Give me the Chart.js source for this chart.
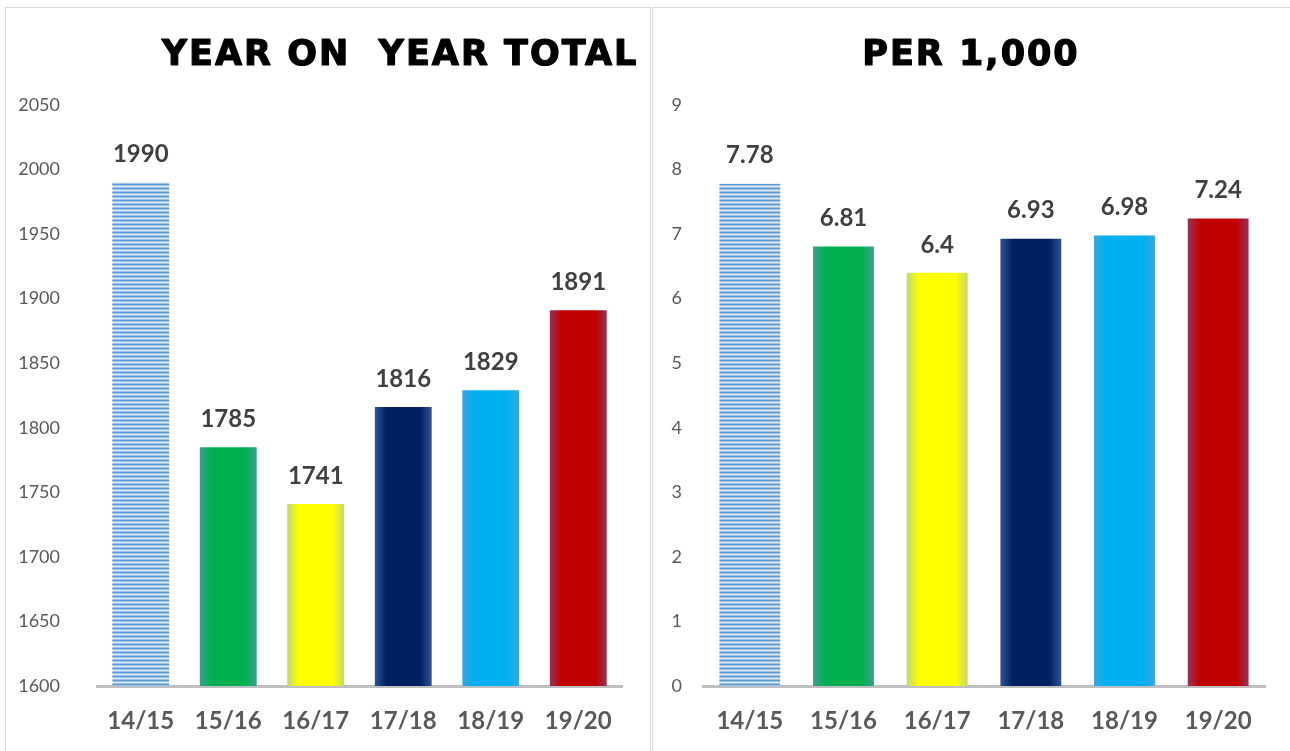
<!DOCTYPE html>
<html><head><meta charset="utf-8">
<script src="https://cdn.jsdelivr.net/npm/chart.js@4.4.1/dist/chart.umd.min.js"></script>
<style>
html,body{margin:0;padding:0;background:#fff;width:1290px;height:751px;overflow:hidden;}
.panel{position:absolute;border:1px solid #d9d9d9;box-sizing:border-box;}
#p1{left:5px;top:7px;width:646px;height:780px;}
#p2{left:652px;top:7px;width:660px;height:780px;}
canvas{position:absolute;top:0;}
#c1{left:0;}
#c2{left:651px;}
</style></head><body>
<div class="panel" id="p1"></div>
<div class="panel" id="p2"></div>
<canvas id="c1" width="650" height="751"></canvas>
<canvas id="c2" width="639" height="751"></canvas>
<script>
const categories = ['14/15','15/16','16/17','17/18','18/19','19/20'];
const totalValues = [1990,1785,1741,1816,1829,1891];
const perThousandValues = [7.78,6.81,6.4,6.93,6.98,7.24];
const totalTitle = 'YEAR ON  YEAR TOTAL';
const perThousandTitle = 'PER 1,000';
const barColors = ['stripes','#00B050','#FFFF00','#002060','#00B0F0','#C00000'];
const barEdgeColors = [null,'#3C9E92','#C2D86E','#2F5594','#3AA6DE','#963358'];

function stripePattern(ctx){
  const pc = document.createElement('canvas');
  pc.width = 8; pc.height = 4;
  const p = pc.getContext('2d');
  const rows = ['#5B9BD5','#9DC3E6','#DDEBF7','#9DC3E6'];
  rows.forEach((c,i)=>{p.fillStyle=c;p.fillRect(0,i,8,1);});
  return ctx.createPattern(pc,'repeat');
}

const valueLabels = {
  id:'valueLabels',
  afterDatasetsDraw(chart){
    const ctx = chart.ctx;
    const meta = chart.getDatasetMeta(0);
    const data = chart.data.datasets[0].data;
    ctx.save();
    ctx.font = 'bold 24px Lato';
    ctx.fillStyle = '#404040';
    ctx.textAlign = 'center';
    ctx.textBaseline = 'middle';
    meta.data.forEach((bar,i)=>{
      ctx.fillText(String(data[i]), bar.x, bar.y - 28);
    });
    ctx.restore();
  }
};

const panelTitle = {
  id:'panelTitle',
  afterDraw(chart, args, opts){
    const ctx = chart.ctx;
    ctx.save();
    ctx.font = 'bold 35px "DejaVu Sans"';
    ctx.letterSpacing = '2px';
    ctx.fillStyle = '#000';
    ctx.strokeStyle = '#000';
    ctx.lineWidth = 1.2;
    ctx.lineJoin = 'round';
    ctx.textAlign = 'center';
    ctx.textBaseline = 'alphabetic';
    ctx.fillText(opts.text, opts.x, 65);
    ctx.strokeText(opts.text, opts.x, 65);
    ctx.restore();
  }
};

function makeChart(id, values, min, max, step, yWidth, yPad, padRight, title, titleX){
  const canvas = document.getElementById(id);
  const ctx = canvas.getContext('2d');
  const pattern = stripePattern(ctx);
  const fill = (c) => {
    const i = c.dataIndex;
    if (barColors[i] === 'stripes') return pattern;
    const chart = c.chart;
    const xs = chart.scales.x;
    if (!xs || !chart.chartArea) return barColors[i];
    const cx = xs.getPixelForValue(i);
    const half = (xs.width / categories.length) * 0.65 / 2;
    const g = chart.ctx.createLinearGradient(cx - half, 0, cx + half, 0);
    g.addColorStop(0, barEdgeColors[i]);
    g.addColorStop(0.2, barColors[i]);
    g.addColorStop(0.8, barColors[i]);
    g.addColorStop(1, barEdgeColors[i]);
    return g;
  };
  return new Chart(ctx, {
    type:'bar',
    data:{labels:categories, datasets:[{data:values, backgroundColor:fill, borderWidth:0, barPercentage:0.65, categoryPercentage:1}]},
    options:{
      responsive:false, animation:false,
      layout:{padding:{top:105,right:padRight,left:0,bottom:0}},
      plugins:{legend:{display:false}, tooltip:{enabled:false}, title:{display:false},
        panelTitle:{text:title, x:titleX}},
      scales:{
        x:{grid:{display:false,drawTicks:false},
           border:{display:true,color:'#BFBFBF',width:3},
           ticks:{font:{family:'Lato',size:24,weight:'bold'},color:'#595959',padding:21},
           afterFit(s){s.height=65;}},
        y:{min:min,max:max,grid:{display:false,drawTicks:false},border:{display:false},
           ticks:{stepSize:step,font:{family:'Lato',size:18},color:'#595959',padding:yPad,
                  callback:(v)=>String(v)},
           afterFit(s){s.width=yWidth;}}
      }
    },
    plugins:[valueLabels, panelTitle]
  });
}

makeChart('c1', totalValues, 1600, 2050, 50, 97, 37, 28, totalTitle, 400);
makeChart('c2', perThousandValues, 0, 9, 1, 52, 21, 25, perThousandTitle, 320);
</script>
</body></html>
